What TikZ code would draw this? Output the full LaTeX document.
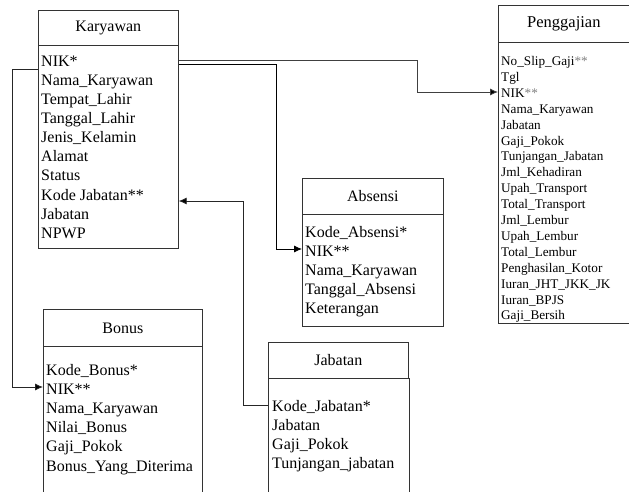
\documentclass[tikz,border=0pt]{standalone}
\usepackage{fontspec}
\setmainfont{Liberation Serif}
\usetikzlibrary{arrows.meta}
\tikzset{
  tbox/.style={draw=black!80, line width=0.7pt, anchor=north west, inner sep=0pt},
  ttl/.style={tbox, font=\fontsize{16}{19}\selectfont},
  row/.style={anchor=base west, inner sep=0pt, font=\fontsize{16}{19}\selectfont},
  srow/.style={anchor=base west, inner sep=0pt, font=\fontsize{13.2}{16}\selectfont},
  conn/.style={draw=black, line width=0.8pt},
  arr/.style={conn, -{Latex[length=8pt,width=7pt,fill=black]}}
}
\begin{document}
\begin{tikzpicture}[x=1pt,y=-1pt]
\clip (0,0) rectangle (629,491);
\fill[white] (0,0) rectangle (629,491);

% Karyawan
\node[ttl, minimum width=140pt, minimum height=35pt] (kt) at (38,10) {Karyawan};
\node[tbox, minimum width=140pt, minimum height=203pt] (kb) at (38,45) {};
\foreach \t [count=\i from 0] in {NIK*,Nama\_Karyawan,Tempat\_Lahir,Tanggal\_Lahir,Jenis\_Kelamin,Alamat,Status,Kode Jabatan**,Jabatan,NPWP}
  \node[row] (k\i) at (41,66+19.15*\i) {\t};

% Absensi
\node[ttl, minimum width=141pt, minimum height=36pt] (at) at (302,178) {Absensi};
\node[tbox, minimum width=141pt, minimum height=112pt] (ab) at (302,214) {};
\foreach \t [count=\i from 0] in {Kode\_Absensi*,NIK**,Nama\_Karyawan,Tanggal\_Absensi,Keterangan}
  \node[row] (a\i) at (305,237+19.2*\i) {\t};

% Bonus
\node[ttl, minimum width=159pt, minimum height=37pt] (bt) at (43,309) {Bonus};
\node[tbox, minimum width=159pt, minimum height=160pt] (bb) at (43,346) {};
\foreach \t [count=\i from 0] in {Kode\_Bonus*,NIK**,Nama\_Karyawan,Nilai\_Bonus,Gaji\_Pokok,Bonus\_Yang\_Diterima}
  \node[row] (b\i) at (46,375+19.2*\i) {\t};

% Jabatan
\node[ttl, minimum width=140pt, minimum height=36pt] (jt) at (268,342) {Jabatan};
\node[tbox, minimum width=141pt, minimum height=130pt] (jb) at (268,378) {};
\foreach \t [count=\i from 0] in {Kode\_Jabatan*,Jabatan,Gaji\_Pokok,Tunjangan\_jabatan}
  \node[row] (j\i) at (272,411+19.2*\i) {\t};

% Penggajian
\node[tbox, font=\fontsize{16.5}{19}\selectfont, minimum width=140pt, minimum height=37pt] (pt) at (498,5) {\hspace*{-9pt}Penggajian};
\node[tbox, minimum width=140pt, minimum height=281pt] (pb) at (498,42) {};
\foreach \t [count=\i from 0] in {No\_Slip\_Gaji{\color{gray}**},Tgl,NIK{\color{gray}**},Nama\_Karyawan,Jabatan,Gaji\_Pokok,Tunjangan\_Jabatan,Jml\_Kehadiran,Upah\_Transport,Total\_Transport,Jml\_Lembur,Upah\_Lembur,Total\_Lembur,Penghasilan\_Kotor,Iuran\_JHT\_JKK\_JK,Iuran\_BPJS,Gaji\_Bersih}
  \node[srow] (p\i) at (501,65.5+15.9*\i) {\t};

% connectors
\draw[arr, draw=black!75] (kb.east |- 0,60) -- (417,60) -- (417,92) -- (pb.west |- 0,92);
\draw[arr] (kb.east |- 0,64) -- (276,64) -- (276,249) -- (ab.west |- 0,249);
\draw[arr, draw=black!85] (kb.west |- 0,69) -- (12,69) -- (12,387) -- (bb.west |- 0,387);
\draw[arr, draw=black!85] (jb.west |- 0,405) -- (243,405) -- (243,201) -- (kb.east |- 0,201);
\end{tikzpicture}
\end{document}
